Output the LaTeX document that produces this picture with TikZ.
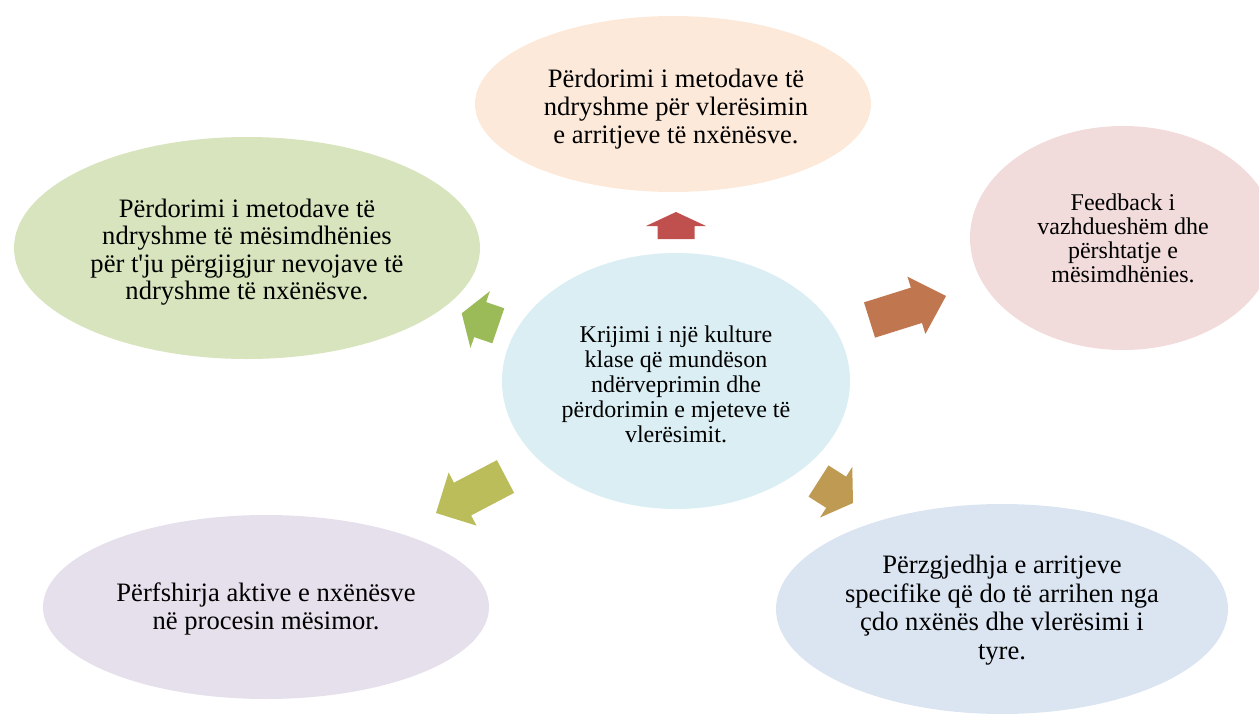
\documentclass[tikz,border=0pt]{standalone}
\usepackage{fontspec}
\setmainfont{Liberation Serif}
\usetikzlibrary{shapes.geometric,calc}
\definecolor{cTop}{HTML}{FDE9D9}
\definecolor{cTopLeft}{HTML}{D7E4BD}
\definecolor{cRight}{HTML}{F2DCDB}
\definecolor{cBotLeft}{HTML}{E5E0EC}
\definecolor{cBotRight}{HTML}{DBE5F1}
\definecolor{cCenter}{HTML}{DAEEF3}
\definecolor{aTop}{HTML}{C0504D}
\definecolor{aRight}{HTML}{C0764F}
\definecolor{aTopLeft}{HTML}{9BBB59}
\definecolor{aBotLeft}{HTML}{BBBD5A}
\definecolor{aBotRight}{HTML}{BE9A52}
\newcommand\blockarr[5]{%
  \coordinate (#1t) at (#2);
  \coordinate (#1p) at (#3);
  \coordinate (#1h) at ($(#1p)!#4pt!(#1t)$);
  \fill[#5] ($(#1t)!18.5pt!90:(#1p)$) -- ($(#1h)!18.5pt!-90:(#1t)$) -- ($(#1h)!30pt!-90:(#1t)$) -- (#1p) -- ($(#1h)!30pt!90:(#1t)$) -- ($(#1h)!18.5pt!90:(#1t)$) -- ($(#1t)!18.5pt!-90:(#1p)$) -- cycle;
}
\begin{document}
\begin{tikzpicture}[x=1pt,y=-1pt,
  bubble/.style={ellipse,draw=none,inner sep=0pt},
  txt/.style={align=center,font=\fontsize{24}{#1}\selectfont,inner sep=0pt},
  txt/.default=25,
  bigtxt/.style={align=center,font=\fontsize{26.6}{#1}\selectfont,inner sep=0pt},
  bigtxt/.default=27.5]
\useasboundingbox (0,0) rectangle (1259,715);
% ellipses
\node[bubble,fill=cTop,minimum width=396pt,minimum height=176pt] (top) at (673,104) {};
\node[bubble,fill=cTopLeft,minimum width=466pt,minimum height=222pt] (topleft) at (247,248) {};
\node[bubble,fill=cRight,minimum width=306pt,minimum height=224pt] (right) at (1123,238) {};
\node[bubble,fill=cCenter,minimum width=348pt,minimum height=256pt] (center) at (676,381) {};
\node[bubble,fill=cBotLeft,minimum width=446pt,minimum height=184pt] (botleft) at (266,607) {};
\node[bubble,fill=cBotRight,minimum width=452pt,minimum height=210pt] (botright) at (1002,609) {};
% texts
\node[bigtxt=28] (toptxt) at (676,109) {Përdorimi i metodave të\\ndryshme për vlerësimin\\e arritjeve të nxënësve.};
\node[bigtxt] (toplefttxt) at (247,252) {Përdorimi i metodave të\\ndryshme të mësimdhënies\\për t\textquotesingle ju përgjigjur nevojave të\\ndryshme të nxënësve.};
\node[txt=24] (righttxt) at (1123,238.5) {Feedback i\\vazhdueshëm dhe\\përshtatje e\\mësimdhënies.};
\node[txt=25] (centertxt) at (676,384) {Krijimi i një kulture\\klase që mundëson\\ndërveprimin dhe\\përdorimin e mjeteve të\\vlerësimit.};
\node[bigtxt=28] (botlefttxt) at (266,609) {Përfshirja aktive e nxënësve\\në procesin mësimor.};
\node[bigtxt=28.5] (botrighttxt) at (1002,610) {Përzgjedhja e arritjeve\\specifike që do të arrihen nga\\çdo nxënës dhe vlerësimi i\\tyre.};
% block arrows
\blockarr{aa}{676,239}{676,212}{14}{aTop}
\blockarr{ab}{869.5,320}{946,296}{31}{aRight}
\blockarr{ac}{498.3,325.8}{461.7,313.3}{19.5}{aTopLeft}
\blockarr{ad}{505.5,476.5}{436,513}{30}{aBotLeft}
\blockarr{ae}{818.5,481}{853,503}{20}{aBotRight}
\end{tikzpicture}
\end{document}
